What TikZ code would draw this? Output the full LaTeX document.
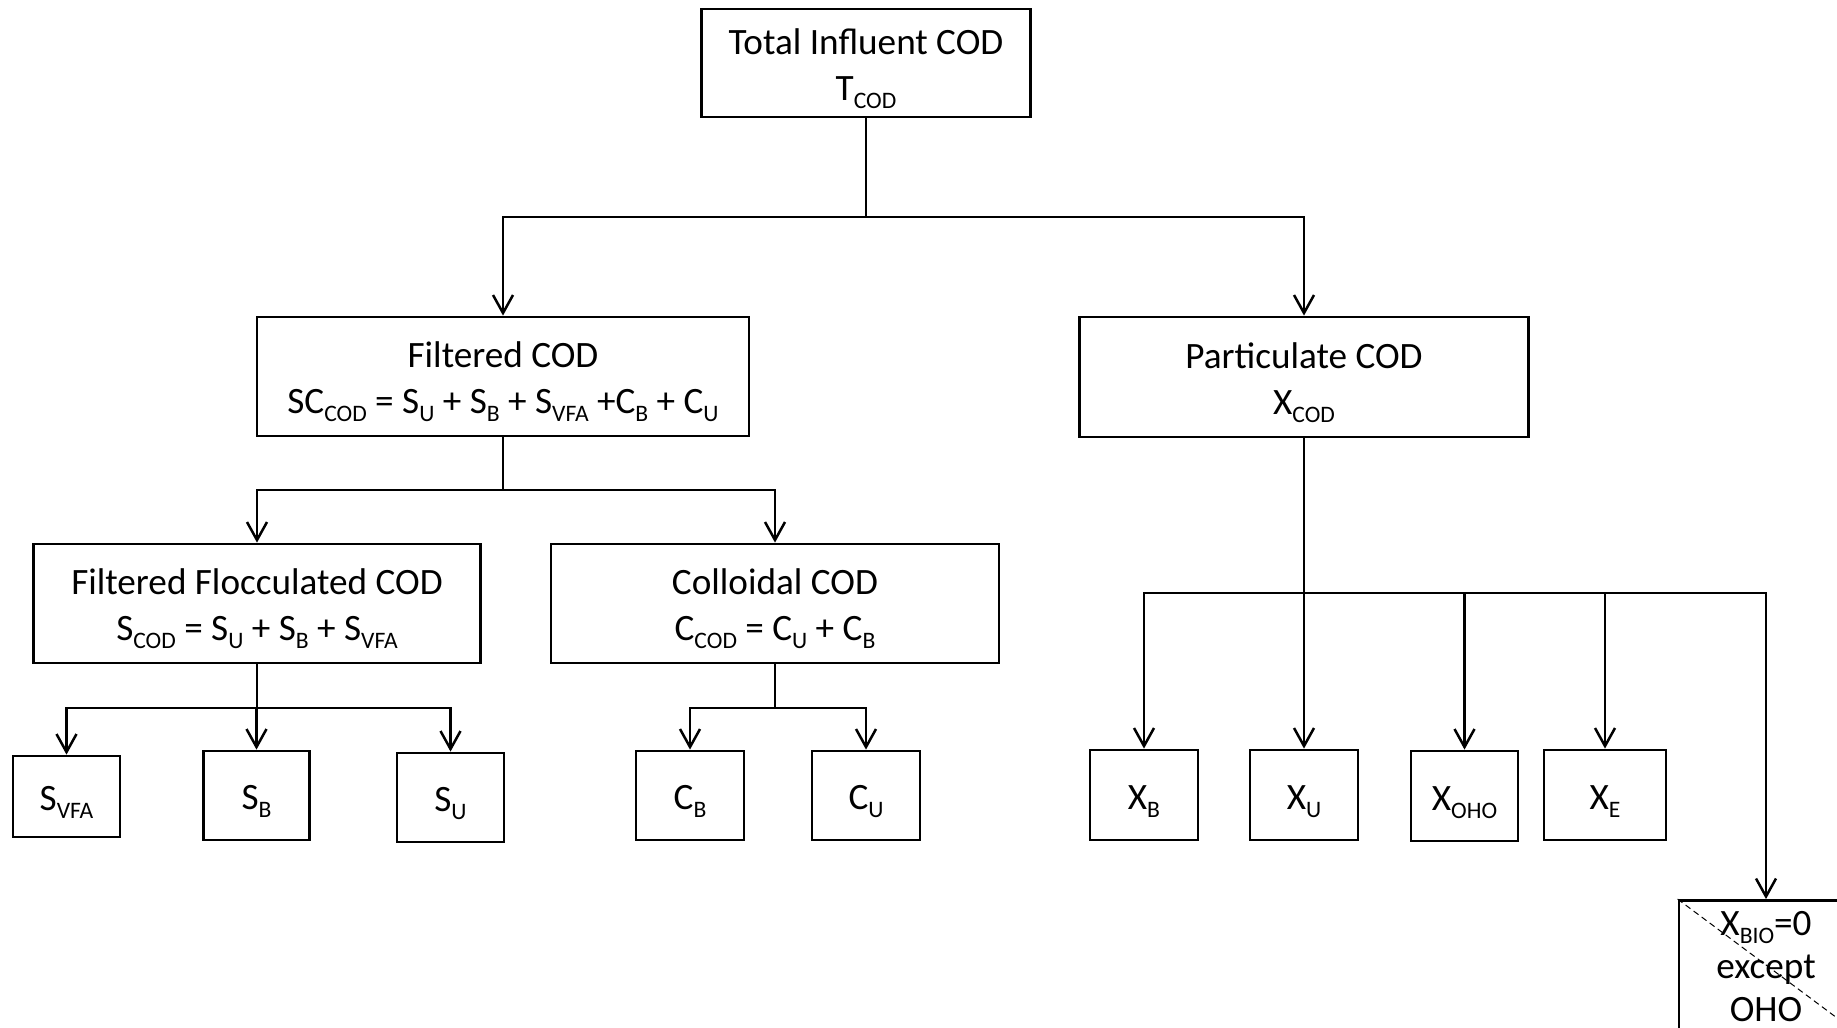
\documentclass[tikz,border=0pt]{standalone}
\usepackage{fontspec}
\setmainfont{Carlito}
\usetikzlibrary{arrows.meta}
\newcommand\sbs[1]{\raisebox{-0.45ex}{\fontsize{11.8}{12}\selectfont #1}}
\newcommand\bt[1]{\raisebox{-2.5pt}[\height][\depth]{\begin{tabular}{@{}c@{}}#1\end{tabular}}}
\begin{document}
\begin{tikzpicture}[x=0.5pt,y=-0.5pt,
  box/.style={draw,line width=1.4pt,inner sep=0pt,
    font=\fontsize{18.6}{23}\selectfont},
  ln/.style={line width=1.25pt},
  arr/.style={line width=1.25pt,-{Straight Barb[length=9pt,width=10pt]}},
  diag/.style={line width=0.5pt,dash pattern=on 3pt off 2pt}]
\useasboundingbox (0,0) rectangle (1837,1028);
\begin{scope}
\clip (0,0) rectangle (1837,1028);
% level 0
\node[box,minimum width=164.5pt,minimum height=54pt] (top) at (866,63) {\bt{Total Influent COD\\T\sbs{COD}}};
% level 1
\node[box,minimum width=246pt,minimum height=59.5pt] (filt) at (503,376.5) {\bt{Filtered COD\\SC\sbs{COD} = S\sbs{U} + S\sbs{B} + S\sbs{VFA} +C\sbs{B} + C\sbs{U}}};
\node[box,minimum width=224.5pt,minimum height=60pt] (part) at (1304,377) {\bt{Particulate COD\\X\sbs{COD}}};
% level 2
\node[box,minimum width=223.5pt,minimum height=59.5pt] (ffc) at (257,603.5) {\bt{Filtered Flocculated COD\\S\sbs{COD} = S\sbs{U} + S\sbs{B} + S\sbs{VFA}}};
\node[box,minimum width=224pt,minimum height=59.5pt] (coll) at (775,603.5) {\bt{Colloidal COD\\C\sbs{COD} = C\sbs{U} + C\sbs{B}}};
% leaves
\node[box,minimum width=53.5pt,minimum height=40.5pt] (svfa) at (66.5,796.5) {\bt{S\sbs{VFA}}};
\node[box,minimum width=53pt,minimum height=44.5pt] (sb) at (256.5,795.5) {\bt{S\sbs{B}}};
\node[box,minimum width=53.5pt,minimum height=44.5pt] (su) at (450.5,797.5) {\bt{S\sbs{U}}};
\node[box,minimum width=54pt,minimum height=44.5pt] (cb) at (690,795.5) {\bt{C\sbs{B}}};
\node[box,minimum width=54pt,minimum height=44.5pt] (cu) at (866,795.5) {\bt{C\sbs{U}}};
\node[box,minimum width=54pt,minimum height=45pt] (xb) at (1144,795) {\bt{X\sbs{B}}};
\node[box,minimum width=54pt,minimum height=45pt] (xu) at (1304,795) {\bt{X\sbs{U}}};
\node[box,minimum width=53.5pt,minimum height=45pt] (xoho) at (1464.5,796) {\bt{X\sbs{OHO}}};
\node[box,minimum width=61pt,minimum height=45pt] (xe) at (1605,795) {\bt{X\sbs{E}}};
\node[box,minimum width=87pt,minimum height=64pt,font=\fontsize{18.6}{21.5}\selectfont] (xbio) at (1766,965) {\bt{X\sbs{BIO}=0\\except\\OHO}};
\draw[diag] (xbio.north west) -- (xbio.south east);
% junctions
\coordinate (j0) at (866,217);
\coordinate (j1) at (503,490);
\coordinate (j2) at (257,708);
\coordinate (j3) at (775,708);
\coordinate (j4) at (1304,593);
% connectors
\draw[ln] (top.south) -- (j0);
\draw[arr] (j0) -| (filt.north);
\draw[arr] (j0) -| (part.north);
\draw[ln] (filt.south) -- (j1);
\draw[arr] (j1) -| (ffc.north);
\draw[arr] (j1) -| (coll.north);
\draw[ln] (ffc.south) -- (j2);
\draw[arr] (j2) -| (svfa.north);
\draw[arr] (j2) -| (sb.north);
\draw[arr] (j2) -| (su.north);
\draw[ln] (coll.south) -- (j3);
\draw[arr] (j3) -| (cb.north);
\draw[arr] (j3) -| (cu.north);
\draw[ln] (part.south) -- (j4);
\draw[arr] (j4) -| (xb.north);
\draw[arr] (j4) -| (xu.north);
\draw[arr] (j4) -| (xoho.north);
\draw[arr] (j4) -| (xe.north);
\draw[arr] (j4) -| (xbio.north);
\end{scope}
\end{tikzpicture}
\end{document}
